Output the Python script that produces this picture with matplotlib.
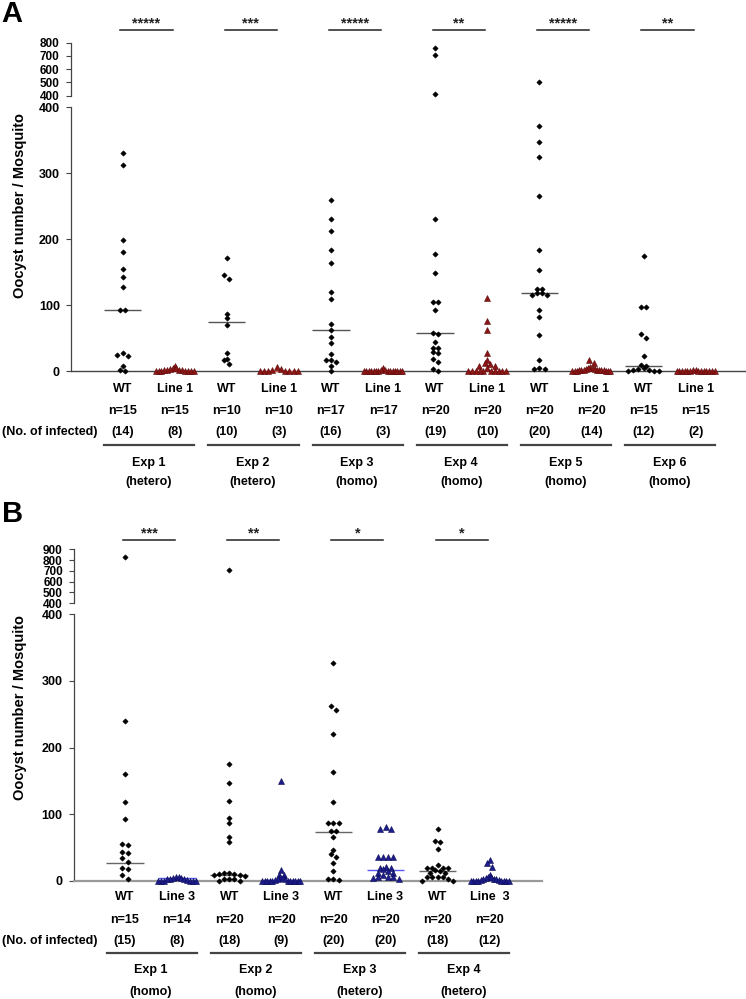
import numpy as np
import matplotlib
matplotlib.use('Agg')
import matplotlib.pyplot as plt
from matplotlib.transforms import blended_transform_factory

plt.rcParams['font.family'] = ['Liberation Sans', 'DejaVu Sans']

# ---------------- Panel A data ----------------
groups_A = ['WT', 'Line 1'] * 6
n_A = [15, 15, 10, 10, 17, 17, 20, 20, 20, 20, 15, 15]
infected_A = [14, 8, 10, 3, 16, 3, 19, 10, 20, 14, 12, 2]
exp_A = ['Exp 1', 'Exp 2', 'Exp 3', 'Exp 4', 'Exp 5', 'Exp 6']
type_A = ['(hetero)', '(hetero)', '(homo)', '(homo)', '(homo)', '(homo)']
sig_A = ['*****', '***', '*****', '**', '*****', '**']

wt_A1 = [330, 312, 199, 180, 155, 143, 128, 93, 92, 28, 24, 23, 7, 2, 0]
line1_A1 = [7, 5, 4, 3, 2, 2, 1, 1, 0, 0, 0, 0, 0, 0, 0]
wt_A2 = [172, 146, 140, 87, 80, 70, 28, 18, 16, 11]
line1_A2 = [6, 3, 1, 0, 0, 0, 0, 0, 0, 0]
wt_A3 = [260, 231, 213, 183, 164, 120, 109, 71, 62, 52, 42, 26, 17, 16, 14, 7, 0]
line1_A3 = [4, 2, 1, 0, 0, 0, 0, 0, 0, 0, 0, 0, 0, 0, 0, 0, 0]
wt_A4 = [758, 707, 415, 231, 178, 148, 104, 104, 92, 58, 56, 44, 35, 35, 29, 28, 18, 13, 3, 0]
line1_A4 = [111, 76, 62, 27, 16, 12, 10, 8, 7, 4, 0, 0, 0, 0, 0, 0, 0, 0, 0, 0]
wt_A5 = [501, 371, 347, 324, 265, 184, 153, 125, 125, 118, 118, 115, 115, 93, 82, 54, 16, 4, 3, 3]
line1_A5 = [17, 12, 6, 5, 4, 3, 3, 2, 2, 2, 1, 1, 1, 1, 0, 0, 0, 0, 0, 0]
wt_A6 = [175, 97, 97, 56, 50, 23, 9, 8, 5, 3, 2, 1, 0, 0, 0]
line1_A6 = [1, 1, 0, 0, 0, 0, 0, 0, 0, 0, 0, 0, 0, 0, 0]
median_A = [92, 0, 75, 0, 62, 0, 57, 0.5, 118, 0.5, 8, 0]

# ---------------- Panel B data ----------------
groups_B = ['WT', 'Line 3', 'WT', 'Line 3', 'WT', 'Line 3', 'WT', 'Line  3']
n_B = [15, 14, 20, 20, 20, 20, 20, 20]
infected_B = [15, 8, 18, 9, 20, 20, 18, 12]
exp_B = ['Exp 1', 'Exp 2', 'Exp 3', 'Exp 4']
type_B = ['(homo)', '(homo)', '(hetero)', '(hetero)']
sig_B = ['***', '**', '*', '*']

wt_B1 = [830, 240, 160, 118, 93, 55, 54, 43, 41, 34, 28, 19, 17, 8, 2]
line3_B1 = [6, 5, 4, 4, 3, 2, 2, 1, 0, 0, 0, 0, 0, 0]
wt_B2 = [711, 175, 146, 120, 94, 86, 66, 58, 12, 11, 10, 10, 8, 8, 7, 3, 2, 2, 0, 0]
line3_B2 = [150, 16, 9, 8, 6, 4, 3, 2, 1, 0, 0, 0, 0, 0, 0, 0, 0, 0, 0, 0]
wt_B3 = [327, 263, 257, 220, 163, 118, 86, 86, 86, 75, 75, 66, 46, 40, 35, 27, 14, 3, 2, 1]
line3_B3 = [80, 78, 77, 36, 35, 35, 35, 20, 19, 19, 17, 14, 12, 12, 8, 6, 6, 5, 4, 3]
wt_B4 = [78, 59, 58, 47, 23, 19, 19, 19, 19, 16, 14, 12, 11, 6, 5, 5, 5, 2, 0, 0]
line3_B4 = [31, 26, 20, 9, 6, 6, 4, 3, 2, 2, 1, 1, 0, 0, 0, 0, 0, 0, 0, 0]
median_B = [27, 4, 9, 1, 73, 16, 14, 1]

values_A = [wt_A1, line1_A1, wt_A2, line1_A2, wt_A3, line1_A3,
            wt_A4, line1_A4, wt_A5, line1_A5, wt_A6, line1_A6]
values_B = [wt_B1, line3_B1, wt_B2, line3_B2, wt_B3, line3_B3, wt_B4, line3_B4]

# ---------------- layout helpers ----------------
W, H = 746, 999
def fx(px):
    return px / W
def fy(py):
    return 1 - py / H

UNIT_PX = 52.1
BREAK = 400

WT_STYLE = dict(marker='D', color='black', ms=2.7, mec='black', mew=0.4)
RED_STYLE = dict(marker='^', color='#8c1515', ms=4.4, mec='#5a0a0a', mew=0.4)
BLUE_STYLE = dict(marker='^', color='#1c1c8a', ms=4.4, mec='#0a0a55', mew=0.4)


def swarm_offsets(vals, ppu_low, ppu_high, thr=4.0, step=5.2, maxw=38.0):
    vals = np.asarray(vals, float)
    px = np.where(vals > BREAK, BREAK * ppu_low + 11 + (vals - BREAK) * ppu_high, vals * ppu_low)
    order = np.argsort(px, kind='stable')
    offs = np.zeros(len(vals))
    i = 0
    while i < len(order):
        j = i
        start = px[order[i]]
        while j < len(order) and px[order[j]] - start < thr:
            j += 1
        k = j - i
        if k > 1:
            st = min(step, maxw / (k - 1))
            # slots ordered from the centre outwards; highest values take the centre
            slots = sorted(range(k), key=lambda s: (abs(s - (k - 1) / 2), s))
            members = sorted(order[i:j], key=lambda idx: -px[idx])
            for slot, idx in zip(slots, members):
                offs[idx] = (slot - (k - 1) / 2) * st / UNIT_PX
        i = j
    return offs


def draw_panel(fig, low_px, up_px, left_px, right_px, first_px, up_ticks, ppu_low, ppu_high,
               values, groups, styles, medians, med_colors, xaxis_color, xaxis_lw,
               n_list, inf_list, exps, types, sigs, rows_y, sig_y, star_y, ylabel_y, letter, letter_xy):
    xlim = (-(first_px - left_px) / UNIT_PX, (right_px - first_px) / UNIT_PX)
    ax = fig.add_axes([fx(left_px), fy(low_px[1]), fx(right_px) - fx(left_px), fy(low_px[0]) - fy(low_px[1])])
    axu = fig.add_axes([fx(left_px), fy(up_px[1]), fx(right_px) - fx(left_px), fy(up_px[0]) - fy(up_px[1])])
    for a in (ax, axu):
        a.set_xlim(*xlim)
        a.patch.set_alpha(0)
        a.spines['top'].set_visible(False)
        a.spines['right'].set_visible(False)
        a.spines['left'].set_color('#444444')
        a.spines['left'].set_linewidth(0.9)
        a.tick_params(axis='y', direction='out', length=3.6, width=0.8, color='#444444', pad=4.5)
        a.set_xticks([])
    ax.set_ylim(0, 400)
    ax.set_yticks([0, 100, 200, 300, 400])
    ax.set_yticklabels(['0', '100', '200', '300', '400'], fontsize=9, fontweight='bold')
    ax.spines['bottom'].set_color(xaxis_color)
    ax.spines['bottom'].set_linewidth(xaxis_lw)
    axu.set_ylim(400, up_ticks[-1])
    axu.set_yticks(up_ticks)
    axu.set_yticklabels([str(t) for t in up_ticks], fontsize=8.5, fontweight='bold')
    axu.spines['bottom'].set_visible(False)

    xs = np.arange(len(values))
    for i, vals in enumerate(values):
        v = np.asarray(vals, float)
        offs = swarm_offsets(v, ppu_low, ppu_high)
        lo = v <= BREAK
        ax.plot(xs[i] + offs[lo], v[lo], ls='none', clip_on=False, zorder=4, **styles[i])
        if (~lo).any():
            axu.plot(xs[i] + offs[~lo], v[~lo], ls='none', clip_on=False, zorder=4, **styles[i])
        ax.hlines(medians[i], xs[i] - 0.36, xs[i] + 0.36, color=med_colors[i], lw=1.0,
                  zorder=3.5, clip_on=False)

    tx = blended_transform_factory(ax.transData, fig.transFigure)
    for i in range(len(values)):
        fig.text(xs[i], fy(rows_y[0]), groups[i], transform=tx, ha='center', va='center',
                 fontsize=9, fontweight='bold')
        fig.text(xs[i], fy(rows_y[1]), 'n=%d' % n_list[i], transform=tx, ha='center', va='center',
                 fontsize=9, fontweight='bold')
        fig.text(xs[i], fy(rows_y[2]), '(%d)' % inf_list[i], transform=tx, ha='center', va='center',
                 fontsize=9, fontweight='bold')
    fig.text(fx(97), fy(rows_y[2]), '(No. of infected)', ha='right', va='center',
             fontsize=9, fontweight='bold')
    for g in range(len(exps)):
        a, b = xs[2 * g], xs[2 * g + 1]
        fig.add_artist(plt.Line2D([a - 0.35, b + 0.38], [fy(rows_y[3])] * 2, transform=tx,
                                  color='#444444', lw=1.6))
        fig.text((a + b) / 2, fy(rows_y[4]), exps[g], transform=tx, ha='center', va='center',
                 fontsize=9, fontweight='bold')
        fig.text((a + b) / 2, fy(rows_y[5]), types[g], transform=tx, ha='center', va='center',
                 fontsize=9, fontweight='bold')
        fig.add_artist(plt.Line2D([a - 0.04, b - 0.04], [fy(sig_y)] * 2, transform=tx,
                                  color='#222222', lw=1.1))
        fig.text((a + b) / 2 - 0.04, fy(star_y), sigs[g], transform=tx, ha='center', va='center',
                 fontsize=10.5, fontweight='bold', color='#222222')
    fig.text(fx(20), fy(ylabel_y), 'Oocyst number / Mosquito', rotation=90, ha='center',
             va='center', fontsize=10.5, fontweight='bold')
    fig.text(fx(letter_xy[0]), fy(letter_xy[1]), letter, ha='center', va='center',
             fontsize=21, fontweight='bold')


fig = plt.figure(figsize=(W / 100, H / 100), dpi=100)

styles_A = [WT_STYLE, RED_STYLE] * 6
medc_A = ['#555555', '#d9534f'] * 6
draw_panel(fig, (107.3, 371.0), (42.7, 95.7), 71, 746, 122.5, [400, 500, 600, 700, 800],
           0.66, 0.1325, values_A, groups_A, styles_A, median_A, medc_A, '#444444', 1.0,
           n_A, infected_A, exp_A, type_A, sig_A,
           (389.3, 411.0, 431.7, 445.0, 463.3, 482.3), 30.0, 23.0, 205, 'A', (12, 14))

styles_B = [WT_STYLE, BLUE_STYLE] * 4
medc_B = ['#666666', '#5a5af0'] * 4
draw_panel(fig, (614.3, 880.7), (549.3, 603.3), 74, 541.7, 125.0, [400, 500, 600, 700, 800, 900],
           0.666, 0.108, values_B, groups_B, styles_B, median_B, medc_B, '#999999', 1.6,
           n_B, infected_B, exp_B, type_B, sig_B,
           (897.3, 920.0, 940.7, 953.3, 970.0, 992.3), 540.0, 533.5, 707, 'B', (12.5, 514))

fig.savefig('out.png', dpi=100)
